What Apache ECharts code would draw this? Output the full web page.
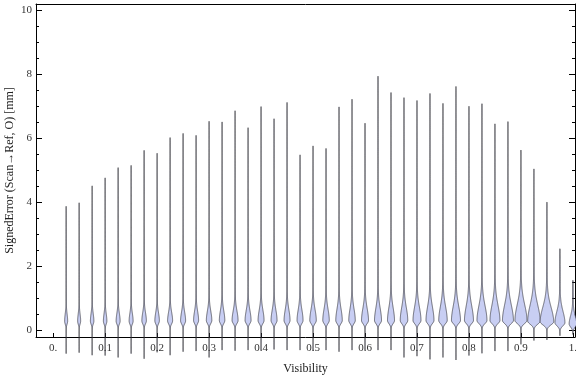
<!DOCTYPE html>
<html>
<head>
<meta charset="utf-8">
<script src="https://cdn.jsdelivr.net/npm/echarts@6/dist/echarts.min.js"></script>
<style>
  html, body { margin: 0; padding: 0; background: #fff; }
  #chart { width: 576px; height: 377px; }
</style>
</head>
<body>
<div id="chart"></div>
<script>
// one violin per visibility bin
const visibility = [0.025, 0.05, 0.075, 0.1, 0.125, 0.15, 0.175, 0.2, 0.225, 0.25,
  0.275, 0.3, 0.325, 0.35, 0.375, 0.4, 0.425, 0.45, 0.475, 0.5,
  0.525, 0.55, 0.575, 0.6, 0.625, 0.65, 0.675, 0.7, 0.725, 0.75,
  0.775, 0.8, 0.825, 0.85, 0.875, 0.9, 0.925, 0.95, 0.975, 1.0];
const maxError = [3.87, 3.98, 4.51, 4.76, 5.08, 5.15, 5.62, 5.53, 6.02, 6.15,
  6.09, 6.53, 6.51, 6.86, 6.33, 6.99, 6.61, 7.12, 5.48, 5.76,
  5.68, 6.98, 7.22, 6.47, 7.94, 7.43, 7.27, 7.18, 7.40, 7.09,
  7.62, 7.00, 7.08, 6.45, 6.52, 5.63, 5.04, 4.00, 2.54, 1.55];
const minError = [-0.74, -0.71, -0.79, -0.80, -0.86, -0.74, -0.90, -0.70, -0.79, -0.68,
  -0.66, -0.86, -0.63, -0.65, -0.63, -0.63, -0.61, -0.63, -0.63, -0.65,
  -0.63, -0.68, -0.63, -0.63, -0.63, -0.63, -0.86, -0.82, -0.92, -0.86,
  -0.94, -0.80, -0.73, -0.66, -0.66, -0.45, -0.33, -0.31, -0.18, -0.14];
// error value where the density peaks
const modeError = [0.28, 0.28, 0.28, 0.28, 0.28, 0.28, 0.29, 0.29, 0.29, 0.29,
  0.3, 0.3, 0.3, 0.3, 0.3, 0.3, 0.3, 0.3, 0.3, 0.3,
  0.3, 0.3, 0.3, 0.3, 0.3, 0.3, 0.3, 0.3, 0.3, 0.3,
  0.3, 0.3, 0.3, 0.3, 0.3, 0.3, 0.28, 0.26, 0.23, 0.19];
// relative peak density (violin width)
const peakDensity = [0.53, 0.53, 0.61, 0.61, 0.70, 0.70, 0.79, 0.79, 0.88, 0.88,
  0.88, 0.96, 0.96, 1.05, 1.05, 1.05, 1.05, 1.05, 1.05, 1.14,
  1.14, 1.14, 1.14, 1.23, 1.23, 1.23, 1.32, 1.40, 1.40, 1.49,
  1.58, 1.58, 1.75, 1.75, 1.93, 2.11, 2.19, 2.37, 1.75, 1.32];
// spread of the upper side of the bulge
const upperSpread = [0.22, 0.22, 0.23, 0.23, 0.24, 0.24, 0.25, 0.25, 0.26, 0.27,
  0.28, 0.29, 0.3, 0.3, 0.31, 0.32, 0.32, 0.33, 0.33, 0.34,
  0.35, 0.36, 0.36, 0.37, 0.38, 0.39, 0.4, 0.41, 0.42, 0.43,
  0.44, 0.45, 0.46, 0.47, 0.48, 0.5, 0.5, 0.45, 0.35, 0.25];
const xTicks = [0, 0.1, 0.2, 0.3, 0.4, 0.5, 0.6, 0.7, 0.8, 0.9, 1];
const yTicks = [0, 2, 4, 6, 8, 10];
const yMinorTicks = [0, 0.5, 1, 1.5, 2, 2.5, 3, 3.5, 4, 4.5, 5, 5.5, 6, 6.5, 7, 7.5, 8, 8.5, 9, 9.5, 10];

const font = "'Liberation Serif', 'DejaVu Serif', serif";
const tickColor = '#333';

function renderViolin(params, api) {
  const x = api.value(0);
  const lo = api.value(1);
  const hi = api.value(2);
  const mode = api.value(3);
  const dens = api.value(4);
  const spread = api.value(5);
  const unit = 0.0055; // half width in visibility units per density unit
  const steps = 400;
  const right = [];
  const left = [];
  for (let k = 0; k <= steps; k++) {
    const v = lo + (hi - lo) * k / steps;
    let f;
    if (v < mode) {
      f = Math.exp(-0.5 * Math.pow((v - mode) / 0.1, 2));
    } else {
      f = 0.88 * Math.exp(-0.5 * Math.pow((v - mode) / spread, 2)) +
        0.12 * Math.exp(-(v - mode) / 1.2);
    }
    const hw = dens * unit * f;
    right.push(api.coord([x + hw, v]));
    left.unshift(api.coord([x - hw, v]));
  }
  return {
    type: 'polygon',
    shape: { points: right.concat(left) },
    style: {
      fill: 'rgb(200,206,243)',
      stroke: 'rgba(50,50,58,0.85)',
      lineWidth: 0.8
    }
  };
}

const frameLine = { show: true, onZero: false, lineStyle: { color: '#000', width: 1 } };

const chart = echarts.init(document.getElementById('chart'));
chart.setOption({
  animation: false,
  backgroundColor: '#fff',
  grid: { left: 36, right: 1, top: 4, bottom: 40, containLabel: false, outerBoundsMode: 'none' },
  xAxis: [
    {
      type: 'value',
      min: -0.033,
      max: 1.004,
      position: 'bottom',
      name: 'Visibility',
      nameLocation: 'middle',
      nameGap: 26,
      nameMoveOverlap: false,
      nameTextStyle: { fontFamily: font, fontSize: 12, color: '#222' },
      axisLine: frameLine,
      axisTick: { show: true, inside: true, length: 4, customValues: xTicks, lineStyle: { color: '#000' } },
      axisLabel: {
        customValues: xTicks,
        margin: 6,
        fontFamily: font,
        fontSize: 11,
        color: tickColor,
        formatter: function (v) {
          if (v === 0) return '0.';
          if (v === 1) return '1.';
          return v.toFixed(1);
        }
      },
      splitLine: { show: false }
    },
    {
      type: 'value',
      min: -0.033,
      max: 1.004,
      position: 'top',
      axisLine: frameLine,
      axisTick: { show: false },
      axisLabel: { show: false },
      splitLine: { show: false }
    }
  ],
  yAxis: [
    {
      type: 'value',
      min: -0.22,
      max: 10.2,
      position: 'left',
      name: 'SignedError (Scan\u2192Ref, O) [mm]',
      nameLocation: 'middle',
      nameGap: 20,
      nameMoveOverlap: false,
      nameRotate: 90,
      nameTextStyle: { fontFamily: font, fontSize: 12, color: '#222' },
      axisLine: frameLine,
      axisTick: { show: true, inside: true, length: 6, customValues: yTicks, lineStyle: { color: '#000' } },
      axisLabel: { customValues: yTicks, margin: 4, fontFamily: font, fontSize: 11, color: tickColor },
      splitLine: { show: false }
    },
    {
      type: 'value',
      min: -0.22,
      max: 10.2,
      position: 'left',
      axisLine: { show: false, onZero: false },
      axisTick: { show: true, inside: true, length: 3, customValues: yMinorTicks, lineStyle: { color: '#000' } },
      axisLabel: { show: false },
      splitLine: { show: false }
    },
    {
      type: 'value',
      min: -0.22,
      max: 10.2,
      position: 'right',
      axisLine: frameLine,
      axisTick: { show: true, inside: true, length: 6, customValues: yTicks, lineStyle: { color: '#000' } },
      axisLabel: { show: false },
      splitLine: { show: false }
    },
    {
      type: 'value',
      min: -0.22,
      max: 10.2,
      position: 'right',
      axisLine: { show: false, onZero: false },
      axisTick: { show: true, inside: true, length: 3, customValues: yMinorTicks, lineStyle: { color: '#000' } },
      axisLabel: { show: false },
      splitLine: { show: false }
    }
  ],
  series: [
    {
      type: 'custom',
      xAxisIndex: 0,
      yAxisIndex: 0,
      clip: false,
      silent: true,
      renderItem: renderViolin,
      encode: { x: 0, y: [1, 2] },
      data: visibility.map(function (v, i) {
        return [v, minError[i], maxError[i], modeError[i], peakDensity[i], upperSpread[i]];
      })
    }
  ]
});
</script>
</body>
</html>
